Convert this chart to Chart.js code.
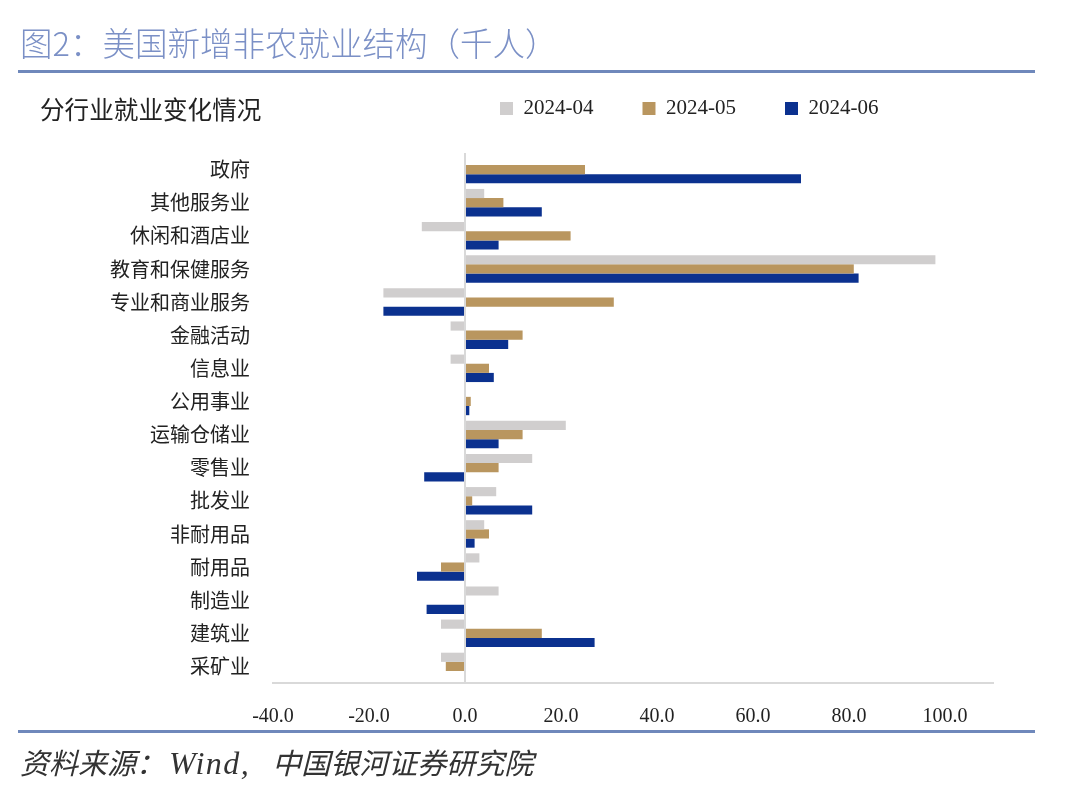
<!DOCTYPE html>
<html>
<head>
<meta charset="utf-8">
<script src="https://cdn.jsdelivr.net/npm/chart.js@4.4.1/dist/chart.umd.min.js"></script>
<style>
  html, body { margin: 0; padding: 0; background: #ffffff; }
  #wrap { position: relative; width: 1075px; height: 805px; overflow: hidden; }
  #c { position: absolute; left: 0; top: 0; }
  .txt { position: absolute; white-space: nowrap; line-height: 1; }
  #title { left: 20px; top: 26px; font-size: 32.5px; color: #7b90c6; font-family: "Noto Sans CJK SC", sans-serif; font-weight: 300; }
  #sub { left: 40px; top: 96px; font-size: 24.6px; color: #222; font-family: "Noto Sans CJK SC", sans-serif; }
  #src { left: 20px; top: 747px; font-size: 29px; color: #333; font-style: italic; font-family: "Liberation Serif", "Noto Sans CJK SC", serif; }
  #src .w { font-size: 32px; letter-spacing: 1.5px; margin-left: 4px; }
  #src .gap { display: inline-block; width: 22px; }
  .rule { position: absolute; left: 18px; width: 1017px; height: 3px; background: #6f88bb; }
</style>
</head>
<body>
<div id="wrap">
  <canvas id="c" width="1075" height="805"></canvas>
  <div class="txt" id="title">图2：美国新增非农就业结构（千人）</div>
  <div class="rule" style="top:70px;"></div>
  <div class="txt" id="sub">分行业就业变化情况</div>
  <div class="rule" style="top:730px;"></div>
  <div class="txt" id="src">资料来源：<span class="w">Wind,</span><span class="gap"></span>中国银河证券研究院</div>
</div>
<script>
const categories = ['政府','其他服务业','休闲和酒店业','教育和保健服务','专业和商业服务','金融活动','信息业','公用事业','运输仓储业','零售业','批发业','非耐用品','耐用品','制造业','建筑业','采矿业'];
const seriesNames = ['2024-04','2024-05','2024-06'];
const apr = [0, 4, -9, 98, -17, -3, -3, 0, 21, 14, 6.5, 4, 3, 7, -5, -5];
const may = [25, 8, 22, 81, 31, 12, 5, 1.2, 12, 7, 1.5, 5, -5, 0, 16, -4];
const jun = [70, 16, 7, 82, -17, 9, 6, 0.9, 7, -8.5, 14, 2, -10, -8, 27, 0];
const xTicks = [-40, -20, 0, 20, 40, 60, 80, 100];
const colors = ['#d0cece', '#b9965f', '#0b318f'];

const legendPos = {
  id: 'legendPos',
  beforeLayout(chart) {
    const lg = chart.legend;
    if (lg && !lg._patched) {
      const origFit = lg.fit.bind(lg);
      lg.fit = function () { origFit(); this.height = 0; };
      lg._patched = true;
    }
  },
  afterLayout(chart) {
    const lg = chart.legend;
    if (!lg) return;
    const pad = lg.options.labels.padding;
    lg.left = 500 - pad;
    lg.right = 1075;
    lg.top = 98 - pad;
    lg.bottom = 140;
    lg.width = lg.right - lg.left;
    lg.height = lg.bottom - lg.top;
  }
};

new Chart(document.getElementById('c'), {
  type: 'bar',
  data: {
    labels: categories,
    datasets: [
      { label: seriesNames[0], data: apr, backgroundColor: colors[0] },
      { label: seriesNames[1], data: may, backgroundColor: colors[1] },
      { label: seriesNames[2], data: jun, backgroundColor: colors[2] }
    ]
  },
  options: {
    indexAxis: 'y',
    responsive: false,
    animation: false,
    devicePixelRatio: 1,
    layout: { padding: { left: 0, top: 153, right: 82, bottom: 0 } },
    datasets: { bar: { categoryPercentage: 0.83, barPercentage: 1.0, borderWidth: 0 } },
    plugins: {
      legend: {
        position: 'top',
        align: 'start',
        labels: {
          boxWidth: 13,
          boxHeight: 13,
          padding: 49,
          color: '#222',
          font: { family: '"Liberation Serif", serif', size: 21 }
        }
      },
      tooltip: { enabled: false }
    },
    scales: {
      x: {
        type: 'linear',
        min: -40,
        max: 110,
        afterBuildTicks(scale) {
          scale.ticks = xTicks.map(v => ({ value: v }));
        },
        afterFit(scale) { scale.height = 122; },
        grid: {
          drawTicks: false,
          lineWidth: 2,
          color: (ctx) => (ctx.tick && ctx.tick.value === 0) ? '#d9d9d9' : 'rgba(0,0,0,0)'
        },
        border: { display: true, color: '#d9d9d9', width: 2 },
        ticks: {
          padding: 22,
          color: '#222',
          font: { family: '"Liberation Serif", serif', size: 20 },
          callback: (v) => Number(v).toFixed(1)
        }
      },
      y: {
        afterFit(scale) { scale.width = 273; },
        grid: { display: false, drawTicks: false },
        border: { display: false },
        ticks: {
          padding: 23,
          color: '#222',
          font: { family: '"Noto Sans CJK SC", sans-serif', size: 20 }
        }
      }
    }
  },
  plugins: [legendPos]
});
</script>
</body>
</html>
